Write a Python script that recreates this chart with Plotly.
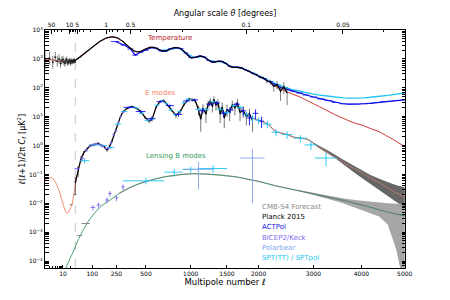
import numpy as np
import plotly.graph_objects as go

# ---------------- theory spectra ----------------
tt_ell = [2, 3, 4, 5, 6, 8, 10, 13, 16, 20, 25, 30, 40, 50, 65, 80, 100, 120, 140, 160, 180, 200, 220, 240,
          260, 280, 300, 330, 360, 390, 420, 450, 490, 540, 580, 620, 670, 720, 770, 820, 870, 920, 970, 1010,
          1060, 1120, 1170, 1220, 1270, 1320, 1380, 1430, 1480, 1540, 1590, 1650, 1720, 1780, 1840, 1900, 1960,
          2020, 2100, 2200, 2300, 2400, 2500, 2600, 2727, 2850, 3000, 3118, 3250, 3400, 3527, 3700, 3850, 4030,
          4200, 4400, 4540, 4700, 4850, 5000]
tt_dl = [1000, 960, 920, 880, 850, 820, 800, 790, 790, 810, 850, 900, 1030, 1200, 1500, 1900, 2500, 3200, 3950,
         4650, 5200, 5600, 5750, 5600, 5200, 4600, 3950, 3050, 2350, 1900, 1750, 1820, 2150, 2550, 2500, 2200,
         1850, 1950, 2300, 2500, 2300, 1800, 1250, 1080, 1120, 1260, 1180, 950, 780, 780, 830, 820, 700, 550,
         500, 510, 480, 420, 370, 320, 280, 240, 200, 150, 110, 88, 72, 60, 49, 38, 28, 22, 17, 12.5, 10, 7.5,
         6, 5, 3.9, 3.0, 2.3, 1.7, 1.25, 0.92]

ee_ell = [2, 3, 4, 5, 6, 7, 8, 10, 12, 14, 16, 18, 20, 22, 25, 28, 30, 35, 40, 50, 60, 75, 90, 110, 130, 150,
          170, 185, 200, 220, 245, 265, 280, 300, 330, 370, 410, 450, 490, 530, 560, 600, 640, 680, 720, 770,
          820, 870, 920, 980, 1020, 1060, 1110, 1150, 1200, 1260, 1310, 1360, 1420, 1470, 1530, 1600, 1650,
          1700, 1780, 1840, 1920, 2000, 2050, 2120, 2180, 2240, 2300, 2400, 2500, 2600, 2750, 2900, 3000, 3118,
          3250, 3400, 3527, 3700, 3954, 4200, 4402, 4650, 4920, 5000]
ee_dl = [0.065, 0.078, 0.072, 0.055, 0.04, 0.028, 0.019, 0.0095, 0.0058, 0.0046, 0.0048, 0.0058, 0.0072, 0.0087,
         0.015, 0.027, 0.04, 0.085, 0.15, 0.32, 0.52, 0.78, 0.98, 1.12, 1.15, 1.05, 0.85, 0.74, 0.85, 1.6, 3.4,
         6.5, 10, 14.5, 19.5, 22, 20, 15, 10, 7.2, 8.5, 20, 34, 36, 27, 16, 11.5, 14.5, 28, 40, 41, 33, 20, 15,
         18, 30, 33, 26, 15, 12.5, 16, 26, 27, 20, 13, 10, 8.5, 7.5, 6.8, 6.0, 5.1, 3.8, 3.0, 2.7, 2.4, 2.0,
         1.8, 1.6, 1.2, 0.83, 0.6, 0.42, 0.33, 0.21, 0.13, 0.075, 0.052, 0.03, 0.019, 0.017]

bb_ell = [10, 13, 16, 20, 25, 30, 40, 50, 60, 80, 110, 150, 210, 270, 330, 400, 480, 580, 700, 850, 1000,
          1150, 1300, 1450, 1630, 1800, 2018, 2300, 2727, 3240, 3600, 3954, 4200, 4500, 4800, 5000]
bb_dl = [3.4e-5, 5.8e-5, 8.8e-5, 1.4e-4, 2.1e-4, 3.1e-4, 5.5e-4, 8.5e-4, 1.25e-3, 2.3e-3, 4.4e-3, 8e-3, 0.0135,
         0.022, 0.031, 0.042, 0.054, 0.068, 0.083, 0.097, 0.105, 0.104, 0.099, 0.092, 0.083, 0.070, 0.056, 0.040,
         0.027, 0.017, 0.0127, 0.0092, 0.0073, 0.0054, 0.0042, 0.0037]

# ---------------- CMB-S4 forecast envelopes ----------------
s4e_ell = [3000, 3300, 3600, 3900, 4200, 4500, 4800, 5000]
s4e_hi = [1.25, 0.66, 0.33, 0.18, 0.095, 0.062, 0.042, 0.036]
s4e_lo = [1.15, 0.55, 0.23, 0.10, 0.045, 0.022, 0.011, 0.0075]
s4b_ell = [2700, 3000, 3300, 3600, 3900, 4200, 4400, 4600, 4800, 4900, 5000]
s4b_hi = [0.029, 0.023, 0.018, 0.015, 0.0128, 0.0112, 0.0105, 0.0100, 0.0097, 0.0096, 0.0095]
s4b_lo = [0.027, 0.0195, 0.014, 0.010, 0.0068, 0.0045, 0.0035, 0.0018, 0.00024, 0.00005, 0.00003]
s4low_ell = [21, 30, 45, 70]
s4low_dl = [0.009, 0.02, 7.6e-4, 2.0e-3]
s4low_hw = [3, 4, 10, 18]

# ---------------- Planck 2015 ----------------
pl_lo_ell = list(range(2, 30))
pl_lo_dl = [900, 1050, 760, 1150, 820, 1000, 700, 880, 950, 780, 700, 880, 960, 730, 800, 760, 900, 850, 700,
            860, 870, 760, 830, 860, 790, 930, 860, 800]
pl_lo_up = [870, 750, 520, 600, 420, 430, 300, 340, 330, 260, 220, 250, 250, 190, 190, 170, 190, 170, 140, 160,
            150, 130, 135, 135, 120, 135, 120, 110]
pl_lo_dn = [430, 420, 300, 380, 280, 300, 210, 250, 250, 200, 170, 200, 200, 155, 160, 145, 165, 150, 125, 145,
            135, 118, 122, 122, 110, 125, 112, 102]

pl_tt_ell = [30, 40, 50, 65, 80, 100, 120, 140, 160, 180, 200, 220, 240, 260, 280, 300, 330, 360, 390, 420, 450,
             490, 540, 580, 620, 670, 720, 770, 820, 870, 920, 970, 1010, 1060, 1120, 1170, 1220, 1270, 1320,
             1380, 1430, 1480, 1540, 1590, 1650, 1720, 1780, 1840, 1900, 1960, 2020, 2080, 2140, 2200, 2260,
             2320, 2380, 2440, 2500]
pl_tt_dl = [880, 1060, 1180, 1530, 1870, 2550, 3150, 4000, 4600, 5250, 5550, 5800, 5550, 5250, 4550, 4000, 3000,
            2380, 1880, 1760, 1800, 2170, 2530, 2520, 2180, 1860, 1930, 2320, 2480, 2320, 1780, 1270, 1070,
            1130, 1250, 1190, 940, 790, 770, 840, 810, 710, 540, 510, 510, 490, 410, 380, 310, 290, 230, 220,
            170, 160, 110, 130, 75, 110, 65]
pl_tt_err = [120, 110, 100, 100, 100, 110, 110, 120, 120, 120, 120, 120, 110, 100, 90, 80, 60, 50, 40, 35, 35,
             40, 45, 45, 40, 35, 35, 40, 40, 40, 35, 30, 25, 25, 25, 25, 22, 20, 20, 20, 20, 18, 16, 16, 16, 16,
             16, 16, 16, 18, 22, 25, 28, 32, 38, 42, 40, 50, 40]

pl_ee_ell = [30, 40, 50, 60, 75, 90, 110, 130, 150, 170, 185, 200, 220, 245, 265, 280, 300, 330, 370, 410, 450,
             490, 530, 560, 600, 640, 680, 720, 770, 820, 870, 920, 980, 1020, 1060, 1100, 1130, 1160, 1200,
             1230, 1260, 1290, 1310, 1340, 1370, 1400, 1430, 1460, 1500, 1540, 1580, 1620, 1660, 1700, 1750,
             1800, 1850, 1900]
pl_ee_dl = [0.05, 0.13, 0.35, 0.55, 0.75, 1.0, 1.05, 1.2, 1.0, 0.9, 0.7, 0.9, 1.5, 3.5, 6.3, 10, 15, 19, 22.5,
            19.5, 15.5, 9.5, 7.0, 8.0, 21, 33, 37, 26, 17, 11, 15, 27, 41, 38, 35, 17, 8, 20, 12, 28, 35, 22,
            40, 25, 30, 12, 22, 9, 18, 14, 26, 20, 30, 14, 16, 10, 13, 7]
pl_ee_err = [0.03, 0.05, 0.08, 0.1, 0.12, 0.12, 0.12, 0.12, 0.12, 0.12, 0.1, 0.12, 0.2, 0.4, 0.6, 0.9, 1.2, 1.4,
             1.6, 1.6, 1.4, 1.2, 1.1, 1.2, 1.6, 2.2, 2.6, 2.4, 2.2, 2.2, 2.6, 3.2, 4.5, 5, 6, 6, 5, 7, 6, 8, 9,
             8, 11, 9, 10, 6, 9, 5, 8, 7, 10, 9, 11, 7, 7, 5, 6, 4]

# ---------------- ACTPol ----------------
act_tt_ell = [240, 310, 360, 400, 450, 500, 550, 600, 650, 700, 760, 820, 880, 940, 1000, 1060, 1120, 1180,
              1240, 1300, 1360, 1420, 1480, 1540, 1600, 1660, 1720, 1780, 1840, 1900, 1960, 2020, 2100, 2200,
              2300, 2400, 2500, 2600, 2727, 2850, 3000, 3150, 3300, 3450, 3600, 3750, 3900, 4050, 4200, 4350,
              4500, 4650, 4800, 5000]
act_tt_dl = [4000, 3000, 2200, 1350, 1700, 2000, 2450, 2350, 1900, 1850, 2250, 2450, 2250, 1600, 1100, 1130,
             1250, 1150, 880, 770, 820, 820, 700, 560, 510, 520, 490, 430, 370, 330, 290, 250, 210, 165, 125,
             100, 88, 77, 66, 56, 48, 41, 36, 31, 28, 27, 27, 28, 29, 31, 33, 34, 36, 38]
act_tt_hw = [30, 30, 25, 25, 25, 25, 25, 25, 25, 25, 30, 30, 30, 30, 30, 30, 30, 30, 30, 30, 30, 30, 30, 30, 30,
             30, 30, 30, 30, 30, 30, 30, 40, 50, 50, 50, 50, 50, 60, 60, 75, 75, 75, 75, 75, 75, 75, 75, 75, 75,
             75, 75, 75, 100]

act_ee_ell = [350, 450, 550, 650, 750, 850, 950, 1050, 1150, 1250, 1350, 1450, 1550, 1650, 1750, 1850, 1950, 2050]
act_ee_dl = [21, 15, 8.5, 33, 24, 12, 35, 38, 16, 27, 30, 13, 17, 27, 16, 9, 13, 7]
act_ee_err = [2, 1.8, 1.5, 3, 2.5, 2, 3.5, 4, 3, 4, 4.5, 3.5, 4, 5, 5, 4, 5, 3]

# ---------------- SPT ----------------
spt_tt_ell = [650, 750, 850, 950, 1050, 1150, 1250, 1350, 1450, 1550, 1650, 1750, 1850, 1950, 2050, 2150, 2250,
              2350, 2450, 2550, 2650, 2750, 2850, 3000, 3150, 3300, 3450, 3600, 3750, 3900, 4050, 4200, 4350,
              4500, 4650, 4800, 5000]
spt_tt_dl = [1950, 2100, 2450, 1500, 1100, 1230, 880, 800, 780, 550, 510, 460, 370, 300, 235, 190, 150, 125,
             105, 92, 82, 74, 67, 60, 55, 51, 47, 45, 44, 44, 45, 47, 49, 52, 56, 60, 65]

spt_ee_ell = [65, 110, 160, 210, 260, 310, 360, 410, 460, 510, 560, 610, 660, 710, 760, 810, 860, 910, 960, 1010,
              1100, 1200, 1300, 1400, 1500, 1600, 1700, 1800, 1900, 2000, 2150, 2300, 2500, 2750, 2950, 3250]
spt_ee_dl = [0.3, 1.05, 1.0, 0.85, 5.5, 15, 21, 20, 13, 7.5, 8.5, 25, 35, 28, 17, 12, 15, 30, 40, 39, 18, 18,
             33, 18, 14, 24, 21, 12, 9, 7.5, 5.5, 2.9, 2.4, 1.8, 1.05, 0.37]
spt_ee_err = [0.06, 0.1, 0.1, 0.1, 0.5, 1, 1.2, 1.2, 1, 0.8, 0.8, 1.5, 2, 2, 1.5, 1.2, 1.5, 2, 2.5, 2.5, 2, 2,
              3, 2.5, 2.5, 3, 3, 2.5, 2.5, 2, 1.5, 0.8, 0.7, 0.5, 0.35, 0.18]
spt_ee_hw = [20, 25, 25, 25, 25, 25, 25, 25, 25, 25, 25, 25, 25, 25, 25, 25, 25, 25, 25, 25, 50, 50, 50, 50, 50,
             50, 50, 50, 50, 50, 75, 75, 100, 125, 125, 225]

sptpol_bb_ell = [500, 800, 1000, 1300]
sptpol_bb_dl = [0.06, 0.12, 0.15, 0.16]
sptpol_bb_err = [0.015, 0.035, 0.035, 0.05]
sptpol_bb_lo = [300, 690, 900, 1100]
sptpol_bb_hi = [690, 900, 1100, 1500]

# ---------------- BICEP2/Keck ----------------
bk_ee_ell = [37, 55, 72, 90, 107, 124, 142, 160, 177, 195, 212, 230, 247, 265, 282, 300]
bk_ee_dl = [0.16, 0.36, 0.7, 0.95, 1.1, 1.13, 1.1, 0.95, 0.78, 0.8, 1.25, 2.4, 3.3, 6.3, 10, 14]
bk_ee_err = [0.03, 0.05, 0.07, 0.08, 0.09, 0.09, 0.09, 0.09, 0.09, 0.1, 0.15, 0.25, 0.35, 0.6, 0.9, 1.3]
bk_bb_ell = [104, 134, 185, 204, 250, 300]
bk_bb_dl = [0.0072, 0.0087, 0.013, 0.022, 0.0154, 0.037]
bk_bb_err = [0.0015, 0.0018, 0.0028, 0.0045, 0.0035, 0.008]

# ---------------- Polarbear ----------------
pb_bb_ell = [1100, 1900]
pb_bb_dl = [0.15, 0.37]
pb_bb_err = [0.12, 0.36]
pb_bb_lo = [900, 1700]
pb_bb_hi = [1300, 2100]

# tick labels
x_ticks = [10, 100, 250, 500, 1000, 1500, 2000, 3000, 4000, 5000]
x_minor = [3, 4, 5, 6, 7, 8, 9, 20]
theta_ticks = [50, 10, 5, 1, 0.5, 0.1, 0.05]
theta_minor = [40, 30, 20, 9, 8, 7, 6, 4, 3, 2, 0.9, 0.8, 0.7, 0.6, 0.4, 0.3, 0.2, 0.09, 0.08, 0.07, 0.06, 0.04]
y_ticks = [1e-4, 1e-3, 1e-2, 1e-1, 1, 10, 100, 1000, 10000]
y_ticktext = ['10<sup>−4</sup>', '10<sup>−3</sup>', '10<sup>−2</sup>', '10<sup>−1</sup>', '10<sup>0</sup>',
              '10<sup>1</sup>', '10<sup>2</sup>', '10<sup>3</sup>', '10<sup>4</sup>']


# axis scale: logarithmic below l=30, l^0.6 above (as in the original figure)
def xs(ell):
    ell = np.asarray(ell, dtype=float)
    return np.where(ell <= 30, 45 + 25.8 * np.log10(ell / 2), 75.3 + 2.09 * (ell ** 0.6 - 30 ** 0.6))


def a(v):
    return np.asarray(v, dtype=float)


X_RANGE = [float(xs(2)), float(xs(5000)) + 0.3]

C_TT = '#c8302c'
C_EE = '#f4866a'
C_BB = '#3f9c66'
C_ACT = '#1010e8'
C_BK = '#7d6cf0'
C_PB = '#7ea6f2'
C_SPT = '#1fc4f4'
C_S4 = '#888888'

fig = go.Figure()

# S4 forecast envelopes
for ell, hi, lo, col in [(s4e_ell, s4e_hi, s4e_lo, 'rgba(85,85,85,0.9)'),
                         (s4b_ell, s4b_hi, s4b_lo, 'rgba(150,150,150,0.85)')]:
    fig.add_trace(go.Scatter(x=np.concatenate([xs(ell), xs(ell)[::-1]]),
                             y=np.concatenate([a(hi), a(lo)[::-1]]),
                             fill='toself', fillcolor=col, line=dict(width=0), mode='lines',
                             hoverinfo='skip'))

# theory curves
fig.add_trace(go.Scatter(x=xs(tt_ell), y=tt_dl, mode='lines', line=dict(color=C_TT, width=1, shape='spline', smoothing=0.6)))
fig.add_trace(go.Scatter(x=xs(ee_ell), y=ee_dl, mode='lines', line=dict(color=C_EE, width=1, shape='spline', smoothing=0.6)))
fig.add_trace(go.Scatter(x=xs(bb_ell), y=bb_dl, mode='lines', line=dict(color=C_BB, width=1, shape='spline', smoothing=0.6)))

# S4 forecast tint along the polarization curves
ee_mask = a(ee_ell) >= 1700
fig.add_trace(go.Scatter(x=xs(a(ee_ell)[ee_mask]), y=a(ee_dl)[ee_mask], mode='lines',
                         line=dict(color='rgba(110,110,110,0.6)', width=1.2, shape='spline', smoothing=0.6)))
bb_mask = a(bb_ell) >= 250
fig.add_trace(go.Scatter(x=xs(a(bb_ell)[bb_mask]), y=a(bb_dl)[bb_mask], mode='lines',
                         line=dict(color='rgba(110,110,110,0.45)', width=1.2, shape='spline', smoothing=0.6)))

# S4 low-l points
fig.add_trace(go.Scatter(x=xs(s4low_ell), y=s4low_dl, mode='markers', marker=dict(size=1, color=C_S4),
                         error_x=dict(type='data', symmetric=False,
                                      array=xs(a(s4low_ell) + a(s4low_hw)) - xs(s4low_ell),
                                      arrayminus=xs(s4low_ell) - xs(a(s4low_ell) - a(s4low_hw)),
                                      color=C_S4, thickness=1, width=0)))

# SPT TT / ACTPol TT
fig.add_trace(go.Scatter(x=xs(spt_tt_ell), y=spt_tt_dl, mode='lines', line=dict(color=C_SPT, width=1.3)))
fig.add_trace(go.Scatter(x=xs(act_tt_ell), y=act_tt_dl, mode='lines', line=dict(color=C_ACT, width=1.2),
                         error_x=dict(type='data', symmetric=False,
                                      array=xs(a(act_tt_ell) + a(act_tt_hw)) - xs(act_tt_ell),
                                      arrayminus=xs(act_tt_ell) - xs(a(act_tt_ell) - a(act_tt_hw)),
                                      color=C_ACT, thickness=0.8, width=0)))

# Planck
fig.add_trace(go.Scatter(x=xs(pl_lo_ell), y=pl_lo_dl, mode='markers', marker=dict(size=2, color='#222'),
                         error_y=dict(type='data', symmetric=False, array=pl_lo_up, arrayminus=pl_lo_dn,
                                      color='rgba(60,60,60,0.8)', thickness=0.8, width=0)))
fig.add_trace(go.Scatter(x=xs(pl_tt_ell), y=pl_tt_dl, mode='lines', line=dict(color='black', width=1.1),
                         error_y=dict(type='data', array=pl_tt_err, color='rgba(60,60,60,0.8)', thickness=0.8, width=0)))
fig.add_trace(go.Scatter(x=xs(pl_ee_ell), y=pl_ee_dl, mode='lines', line=dict(color='black', width=1.2),
                         error_y=dict(type='data', array=pl_ee_err, color='rgba(50,50,50,0.85)', thickness=0.8, width=0)))


def cross(ell, dl, err, lo, hi, col, th=0.9):
    fig.add_trace(go.Scatter(x=xs(ell), y=dl, mode='markers', marker=dict(size=1, color=col),
                             error_y=dict(type='data', array=err, color=col, thickness=th, width=0),
                             error_x=dict(type='data', symmetric=False,
                                          array=xs(hi) - xs(ell), arrayminus=xs(ell) - xs(lo),
                                          color=col, thickness=th, width=0)))


cross(spt_ee_ell, spt_ee_dl, spt_ee_err, a(spt_ee_ell) - a(spt_ee_hw), a(spt_ee_ell) + a(spt_ee_hw), C_SPT)
cross(act_ee_ell, act_ee_dl, act_ee_err, a(act_ee_ell) - 45, a(act_ee_ell) + 45, C_ACT)
cross(bk_ee_ell, bk_ee_dl, bk_ee_err, a(bk_ee_ell) - 9, a(bk_ee_ell) + 9, C_BK)
cross(bk_bb_ell, bk_bb_dl, bk_bb_err, a(bk_bb_ell) - 12, a(bk_bb_ell) + 12, C_BK)
cross(sptpol_bb_ell, sptpol_bb_dl, sptpol_bb_err, sptpol_bb_lo, sptpol_bb_hi, C_SPT)
cross(pb_bb_ell, pb_bb_dl, pb_bb_err, pb_bb_lo, pb_bb_hi, C_PB)

# invisible trace to activate the top (angular scale) axis
fig.add_trace(go.Scatter(x=[200], y=[1], xaxis='x2', mode='markers', marker=dict(opacity=0), hoverinfo='skip'))

axis_common = dict(showline=True, linecolor='black', linewidth=1, showgrid=False, zeroline=False,
                   ticks='inside', ticklen=3.5, tickcolor='black', tickwidth=0.8, automargin=False,
                   tickfont=dict(size=6))

# the page body adds an 8px offset, so margins are shifted to keep the plot box at 45..405 x 30..268
fig.update_layout(
    width=450, height=300, margin=dict(l=37, r=53, t=22, b=40),
    paper_bgcolor='white', plot_bgcolor='white', showlegend=False,
    font=dict(family='DejaVu Sans', size=6, color='black'),
    xaxis=dict(range=X_RANGE, tickmode='array', tickvals=xs(x_ticks), ticktext=[str(t) for t in x_ticks],
               tickangle=0, mirror=False,
               minor=dict(tickmode='array', tickvals=xs(x_minor), ticks='inside', ticklen=2, tickcolor='black'),
               title=dict(text='Multipole number <i>ℓ</i>', font=dict(size=8.5), standoff=2), **axis_common),
    xaxis2=dict(range=X_RANGE, overlaying='x', side='top', anchor='y', tickmode='array',
                tickvals=xs(180 / a(theta_ticks)), ticktext=[('%g' % t) for t in theta_ticks], tickangle=0,
                minor=dict(tickmode='array', tickvals=xs(180 / a(theta_minor)), ticks='inside', ticklen=2,
                           tickcolor='black'),
                title=dict(text='Angular scale <i>θ</i> [degrees]', font=dict(size=8), standoff=2), **axis_common),
    yaxis=dict(type='log', range=[-4.24, 4], tickmode='array', tickvals=y_ticks, ticktext=y_ticktext,
               mirror='allticks',
               minor=dict(tickmode='array', tickvals=[k * 10.0 ** n for n in range(-5, 4) for k in range(2, 10)],
                          ticks='inside', ticklen=2, tickcolor='black'),
               title=dict(text='<i>ℓ</i>(<i>ℓ</i>+1)/2π <i>C<sub>ℓ</sub></i> [μK<sup>2</sup>]', font=dict(size=8),
                          standoff=2), **axis_common),
    shapes=[dict(type='line', xref='x', yref='paper', x0=float(xs(30)), x1=float(xs(30)), y0=0, y1=1,
                 line=dict(color='#bbbbbb', width=0.8, dash='dash'), layer='below')],
)

# curve labels
for txt, lx, ly, col in [('Temperature', 170, 3.72, '#b52424'), ('E modes', 161, 1.82, '#f28060'),
                         ('Lensing B modes', 176, -0.36, '#3a9a60')]:
    fig.add_annotation(x=lx, y=ly, xref='x', yref='y', text=txt, showarrow=False,
                       font=dict(size=7, color=col))

# legend (coloured text, no symbols)
for i, (txt, col) in enumerate([('CMB-S4 Forecast', C_S4), ('Planck 2015', 'black'), ('ACTPol', C_ACT),
                                ('BICEP2/Keck', C_BK), ('Polarbear', C_PB), ('SPT(TT) / SPTpol', C_SPT)]):
    fig.add_annotation(x=0.597, y=0.2576 - i * 0.0433, xref='paper', yref='paper', text=txt, showarrow=False,
                       xanchor='left', yanchor='middle', font=dict(size=7, color=col))

fig.write_html('out.html')
